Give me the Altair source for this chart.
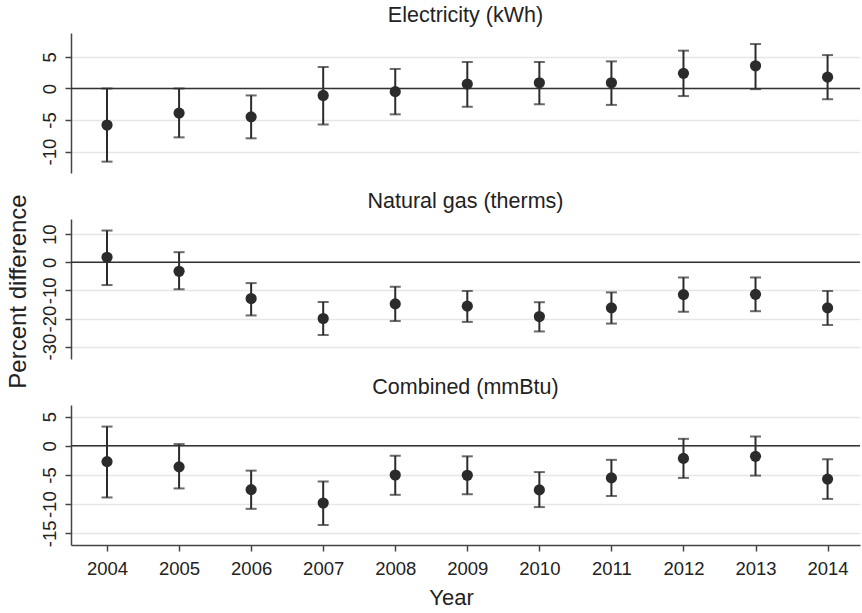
import altair as alt
import pandas as pd

years = list(range(2004, 2015))

elec_est = [-5.8, -3.9, -4.5, -1.1, -0.5, 0.7, 0.9, 0.9, 2.4, 3.6, 1.8]
elec_lo = [-11.6, -7.75, -7.9, -5.7, -4.1, -2.9, -2.5, -2.6, -1.2, -0.1, -1.7]
elec_hi = [0.0, 0.0, -1.1, 3.4, 3.1, 4.2, 4.2, 4.3, 6.0, 7.05, 5.3]

gas_est = [1.8, -3.2, -12.9, -20.0, -14.8, -15.6, -19.3, -16.2, -11.5, -11.4, -16.2]
gas_lo = [-8.1, -9.6, -18.9, -25.9, -20.9, -21.2, -24.6, -21.8, -17.6, -17.4, -22.3]
gas_hi = [11.3, 3.6, -7.4, -14.1, -8.7, -10.2, -14.2, -10.7, -5.4, -5.4, -10.2]

comb_est = [-2.7, -3.6, -7.5, -9.8, -5.0, -5.05, -7.55, -5.5, -2.15, -1.8, -5.7]
comb_lo = [-8.85, -7.3, -10.8, -13.55, -8.4, -8.3, -10.5, -8.6, -5.5, -5.1, -9.1]
comb_hi = [3.3, 0.3, -4.25, -6.1, -1.7, -1.8, -4.5, -2.4, 1.2, 1.6, -2.3]

titles = ["Electricity (kWh)", "Natural gas (therms)", "Combined (mmBtu)"]
y_domains = [[-13.4, 8.8], [-34.4, 15.4], [-17.0, 7.0]]
y_ticks = [[-10, -5, 0, 5], [-30, -20, -10, 0, 10], [-15, -10, -5, 0, 5]]

FONT = "Liberation Sans"
DARK = "#2b2b2b"
AXC = "#444444"
W, H = 789, 140


def panel(i, est, lo, hi, show_x, show_ytitle):
    df = pd.DataFrame({"year": years, "est": est, "lo": lo, "hi": hi})
    xscale = alt.Scale(domain=[2003.5, 2014.45], nice=False, zero=False)
    if show_x:
        xaxis = alt.Axis(values=years, format="d", title="Year", grid=False,
                         labelFontSize=18.5, titleFontSize=22, labelFont=FONT, titleFont=FONT,
                         labelColor="#222", titleColor="#222", titleFontWeight="normal",
                         domainColor=AXC, tickColor=AXC, domainWidth=1.5, tickWidth=1.5,
                         tickSize=6, labelPadding=8, titlePadding=10, labelOverlap=False,
                         titleX=380, titleAlign="center")
    else:
        xaxis = None
    yscale = alt.Scale(domain=y_domains[i], nice=False, zero=False)
    ykw = dict(values=y_ticks[i],
               labelExpr="datum.value < 0 ? '-' + abs(datum.value) : '' + datum.value",
               labelAngle=270, labelFontSize=18.5, titleFontSize=24,
               labelFont=FONT, titleFont=FONT, labelColor="#222", titleColor="#222",
               titleFontWeight="normal", gridColor="#e6e6e6", gridWidth=1.5,
               domainColor=AXC, tickColor=AXC, domainWidth=1.5, tickWidth=1.5,
               tickSize=6, labelPadding=6, titlePadding=10, labelOverlap=False,
               labelBound=False)
    if show_ytitle:
        # shared title for the three panels, centred on the middle panel
        yaxis = alt.Axis(title="Percent difference", titleY=258, **ykw)
    else:
        yaxis = alt.Axis(title=None, **ykw)
    x = alt.X("year:Q", scale=xscale, axis=xaxis)
    base = alt.Chart(df)
    bars = base.mark_rule(color=DARK, strokeWidth=2).encode(
        x=x, y=alt.Y("lo:Q", scale=yscale, axis=yaxis), y2="hi:Q")
    cap_lo = base.mark_tick(color=DARK, orient="horizontal", size=11, thickness=2).encode(
        x=x, y=alt.Y("lo:Q", scale=yscale, axis=yaxis))
    cap_hi = base.mark_tick(color=DARK, orient="horizontal", size=11, thickness=2).encode(
        x=x, y=alt.Y("hi:Q", scale=yscale, axis=yaxis))
    zero = alt.Chart(pd.DataFrame({"z": [0]})).mark_rule(color="#333", strokeWidth=1.5).encode(
        y=alt.Y("z:Q", scale=yscale, axis=yaxis))
    pts = base.mark_circle(color=DARK, size=125, opacity=1).encode(
        x=x, y=alt.Y("est:Q", scale=yscale, axis=yaxis))
    return alt.layer(bars, zero, cap_lo, cap_hi, pts).properties(
        width=W, height=H,
        title=alt.TitleParams(titles[i], fontSize=21.5, font=FONT, fontWeight="normal",
                              color="#222", anchor="middle", offset=7, frame="group"))


p1 = panel(0, elec_est, elec_lo, elec_hi, False, True)
p2 = panel(1, gas_est, gas_lo, gas_hi, False, False)
p3 = panel(2, comb_est, comb_lo, comb_hi, True, False)

chart = alt.vconcat(p1, p2, p3, spacing=46, bounds="flush").resolve_scale(y="independent").properties(
    padding={"left": 6, "right": 0, "top": 4, "bottom": 2},
    background="white",
).configure_view(stroke=None).configure_axis(labelOverlap=False)

chart.save("out.html", embed_options={"renderer": "svg", "actions": False})
